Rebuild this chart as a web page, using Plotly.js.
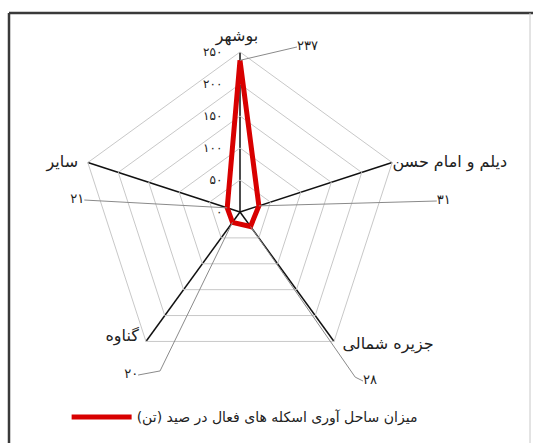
<!DOCTYPE html>
<html>
<head>
<meta charset="utf-8">
<script src="https://cdn.plot.ly/plotly-3.0.1.min.js"></script>
<style>html,body{margin:0;padding:0;background:#fff;}#chart{width:533px;height:443px;}</style>
</head>
<body>
<div id="chart"></div>
<script>
// ---- data ----
const categories = ['بوشهر', 'دیلم و امام حسن', 'جزیره شمالی', 'گناوه', 'سایر'];
const values = [237, 31, 28, 20, 21];
const seriesName = 'میزان ساحل آوری اسکله های فعال در صید (تن)';
const radialTickVals = [0, 50, 100, 150, 200, 250];
const radialTickText = ['۰', '۵۰', '۱۰۰', '۱۵۰', '۲۰۰', '۲۵۰'];

// ---- label placement (layout only, polar units / degrees clockwise from top) ----
const valueElbowR = [272.8, 308, 314.6, 278, 244];
const valueElbowTheta = [19.06, 86.8, 145.1, 206.7, 274.4];
const valueLabelR = [272.8, 308, 326.6, 300.4, 244];
const valueLabelTheta = [19.06, 86.8, 143.95, 212.0, 274.4];
const valueLabelSide = ['middle right', 'middle right', 'middle right', 'middle left', 'middle left'];
const catLabelR = [273, 250, 311, 268, 288];
const catLabelTheta = [359, 72.3, 131.9, 223.4, 285.4];
const catLabelSide = ['middle center', 'middle right', 'middle center', 'middle center', 'middle center'];

function toPersian(n) {
  const d = '۰۱۲۳۴۵۶۷۸۹';
  return String(n).replace(/[0-9]/g, c => d[+c]);
}

const FONT = 'DejaVu Sans, sans-serif';
const W = 533, H = 443;
const CX = 240, CY = 212, R = 160, RMAX = 250, R2MAX = 330;
const R2 = R * R2MAX / RMAX;
const domain = {x: [(CX - R) / W, (CX + R) / W], y: [(H - CY - R) / H, (H - CY + R) / H]};
const domain2 = {x: [(CX - R2) / W, (CX + R2) / W], y: [(H - CY - R2) / H, (H - CY + R2) / H]};

const traces = [];
traces.push({
  type: 'scatterpolar',
  r: values.concat([values[0]]),
  theta: categories.concat([categories[0]]),
  mode: 'lines',
  name: seriesName,
  line: {color: '#d80000', width: 5},
  subplot: 'polar',
  hoverinfo: 'r+theta'
});

const step = 360 / categories.length;
values.forEach((v, i) => {
  traces.push({
    type: 'scatterpolar',
    subplot: 'polar2',
    r: [v, valueElbowR[i], valueLabelR[i]],
    theta: [i * step, valueElbowTheta[i], valueLabelTheta[i]],
    mode: 'lines+text',
    text: ['', '', toPersian(v)],
    textposition: valueLabelSide[i],
    textfont: {family: FONT, size: 13, color: '#222'},
    line: {color: '#8a8a8a', width: 1},
    cliponaxis: false,
    showlegend: false,
    hoverinfo: 'skip'
  });
});

categories.forEach((c, i) => {
  traces.push({
    type: 'scatterpolar',
    subplot: 'polar2',
    r: [catLabelR[i]],
    theta: [catLabelTheta[i]],
    mode: 'text',
    text: [c],
    textposition: catLabelSide[i],
    textfont: {family: FONT, size: 16, color: '#222'},
    cliponaxis: false,
    showlegend: false,
    hoverinfo: 'skip'
  });
});

const layout = {
  width: W,
  height: H,
  margin: {l: 0, r: 0, t: 0, b: 0},
  paper_bgcolor: '#ffffff',
  font: {family: FONT, size: 13, color: '#222'},
  showlegend: true,
  legend: {
    orientation: 'h',
    x: 0.125, xanchor: 'left',
    y: 0.058, yanchor: 'middle',
    itemwidth: 60,
    font: {family: FONT, size: 14, color: '#222'},
    bgcolor: 'rgba(0,0,0,0)'
  },
  polar: {
    domain: domain,
    bgcolor: 'rgba(0,0,0,0)',
    gridshape: 'linear',
    angularaxis: {
      direction: 'clockwise',
      rotation: 90,
      showline: true,
      linecolor: '#c8c8c8',
      linewidth: 1,
      gridcolor: '#111111',
      gridwidth: 1.5,
      ticks: '',
      showticklabels: false
    },
    radialaxis: {
      range: [0, RMAX],
      angle: 90,
      side: 'counterclockwise',
      tickangle: 90,
      tickmode: 'array',
      tickvals: radialTickVals,
      ticktext: radialTickText.map(t => t + '\u00a0\u00a0\u00a0\u00a0'),
      showline: false,
      ticks: '',
      gridcolor: '#c8c8c8',
      gridwidth: 1,
      tickfont: {family: FONT, size: 12, color: '#222'}
    }
  },
  polar2: {
    domain: domain2,
    bgcolor: 'rgba(0,0,0,0)',
    angularaxis: {direction: 'clockwise', rotation: 90, visible: false, showgrid: false, showline: false},
    radialaxis: {range: [0, R2MAX], visible: false, showgrid: false, showline: false}
  },
  shapes: [
    {type: 'line', xref: 'paper', yref: 'paper', x0: 9/W, x1: 1, y0: 1 - 13/H, y1: 1 - 13/H,
     line: {color: '#3a3a3a', width: 2.5}},
    {type: 'line', xref: 'paper', yref: 'paper', x0: 9/W, x1: 9/W, y0: 0, y1: 1 - 13/H,
     line: {color: '#3a3a3a', width: 2.5}},
    {type: 'line', xref: 'paper', yref: 'paper', x0: 530/W, x1: 530/W, y0: 0, y1: 1 - 13/H,
     line: {color: '#c8c8c8', width: 1}}
  ]
};

Plotly.newPlot('chart', traces, layout, {displayModeBar: false, staticPlot: true});
</script>
</body>
</html>
